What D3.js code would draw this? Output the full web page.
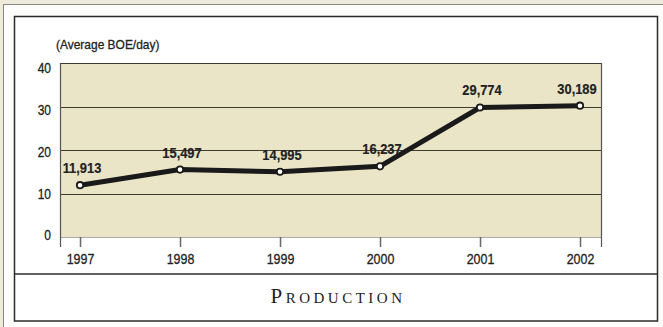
<!DOCTYPE html>
<html><head><meta charset="utf-8">
<script src="https://cdn.jsdelivr.net/npm/d3@7/dist/d3.min.js"></script>
<style>html,body{margin:0;padding:0;background:#fff;}svg{display:block;}</style>
</head><body>
<script>
const years = ["1997","1998","1999","2000","2001","2002"];
const production = [11.913, 15.497, 14.995, 16.237, 29.774, 30.189];
const valueLabels = ["11,913","15,497","14,995","16,237","29,774","30,189"];
const yTicks = [0, 10, 20, 30, 40];
const unitLabel = "(Average BOE/day)";
const title = "Production";

(function () {
const W = 663, H = 327;
const svg = d3.select("body").append("svg").attr("width", W).attr("height", H);
const font = "'Liberation Sans',Arial,sans-serif";

// frame
svg.append("rect").attr("width", W).attr("height", H).attr("fill", "#efebda");
svg.append("rect").attr("x", 3.5).attr("y", 4.5).attr("width", W).attr("height", H)
  .attr("fill", "#fdfdfb").attr("stroke", "#8a8a80").attr("stroke-width", 1);
svg.append("rect").attr("x", 14.5).attr("y", 16.5).attr("width", 643).attr("height", 304.5)
  .attr("fill", "#fff").attr("stroke", "#2b2b2b").attr("stroke-width", 1.5);
svg.append("line").attr("x1", 14.5).attr("x2", 657.5).attr("y1", 274).attr("y2", 274)
  .attr("stroke", "#2b2b2b").attr("stroke-width", 1.5);

const pL = 60, pR = 602, pT = 63, pB = 237;
const x = d3.scalePoint().domain(years).range([80, 580]);
const y = d3.scaleLinear().domain([0, 40]).range([pB, pT]);
const yLab = d3.scaleLinear().domain([0, 40]).range([235, 68]);

// condensed text helper
function ctext(parent, tx, ty, sx, str, size, anchor, weight) {
  const g = parent.append("g").attr("transform", `translate(${tx},${ty}) scale(${sx},1)`);
  return g.append("text").attr("text-anchor", anchor).text(str)
    .attr("font-family", font).attr("font-size", size)
    .attr("font-weight", weight || "normal").attr("fill", "#222")
    .attr("stroke", "#222").attr("stroke-width", weight ? 0.2 : 0.3);
}

// plot background
svg.append("rect").attr("x", pL).attr("y", pT).attr("width", pR - pL).attr("height", pB - pT)
  .attr("fill", "#ebe5c8");

// gridlines
svg.append("g").selectAll("line").data(yTicks.filter(d => d > 0)).join("line")
  .attr("x1", pL).attr("x2", pR)
  .attr("y1", d => Math.round(y(d)) + 0.5).attr("y2", d => Math.round(y(d)) + 0.5)
  .attr("stroke", "#3d3a30").attr("stroke-width", 1);
svg.append("line").attr("x1", pL).attr("x2", pR).attr("y1", pB + 0.5).attr("y2", pB + 0.5)
  .attr("stroke", "#aaa");
svg.append("line").attr("x1", pL + 0.5).attr("x2", pL + 0.5).attr("y1", pT).attr("y2", pB + 10)
  .attr("stroke", "#555").attr("stroke-width", 1.2);
svg.append("line").attr("x1", pR - 0.5).attr("x2", pR - 0.5).attr("y1", pT).attr("y2", pB + 10)
  .attr("stroke", "#555").attr("stroke-width", 1.2);

// x axis
const xAxis = svg.append("g").attr("transform", `translate(0,${pB})`)
  .call(d3.axisBottom(x).tickSize(10).tickPadding(6));
xAxis.select(".domain").remove();
xAxis.selectAll(".tick line").attr("stroke", "#666").attr("stroke-width", 1.5);
xAxis.selectAll(".tick text").attr("font-family", font).attr("font-size", 15).attr("fill", "#222")
  .attr("stroke", "#222").attr("stroke-width", 0.3)
  .attr("transform", "scale(0.83,1)");

// y tick labels
const yl = svg.append("g");
yTicks.forEach(v => {
  ctext(yl, 51, yLab(v), 0.8, String(v), 15, "end").attr("dy", "0.36em");
});

ctext(svg, 56, 49, 0.92, unitLabel, 13, "start");

// line
const line = d3.line().x((d, i) => x(years[i])).y(d => y(d));
svg.append("path").datum(production).attr("d", line)
  .attr("fill", "none").attr("stroke", "#1a1a1a").attr("stroke-width", 5).attr("stroke-linejoin", "round");
svg.append("g").selectAll("circle").data(production).join("circle")
  .attr("cx", (d, i) => x(years[i])).attr("cy", d => y(d)).attr("r", 3.2)
  .attr("fill", "#fff").attr("stroke", "#1a1a1a").attr("stroke-width", 1.8);

// value labels
const vl = svg.append("g");
production.forEach((d, i) => {
  ctext(vl, x(years[i]) + (i === 5 ? -3 : 2), y(d) - 12, 0.86, valueLabels[i], 15, "middle", "bold");
});

// title
svg.append("text").attr("x", 338).attr("y", 302.5).attr("text-anchor", "middle").text(title)
  .attr("font-family", "'Liberation Serif','DejaVu Serif',serif").attr("font-size", 21)
  .attr("font-variant", "small-caps").attr("letter-spacing", 3.5).attr("fill", "#222");
})();
</script>
</body></html>
